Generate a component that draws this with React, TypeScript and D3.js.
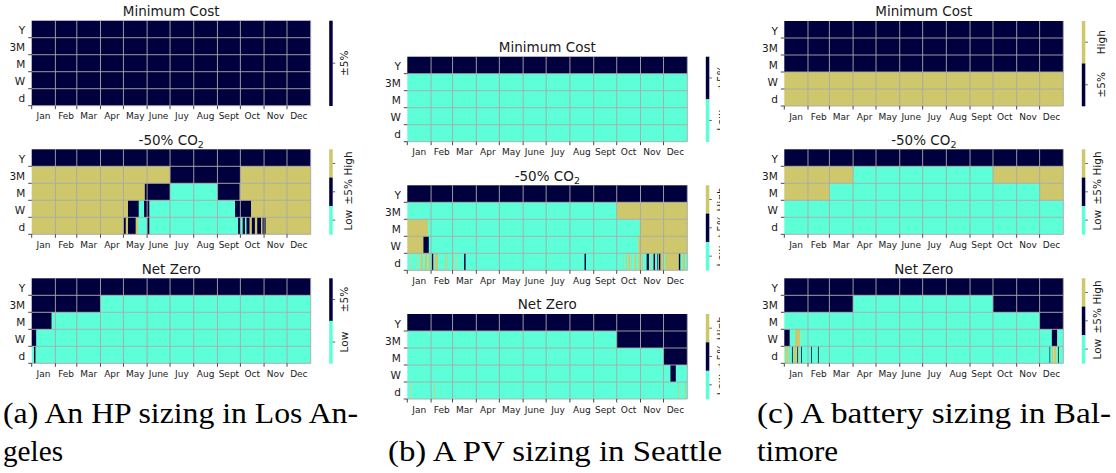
import React from "react";
import * as d3 from "d3";

// Row labels (aggregation windows) and month axis
const rowLabels = ["Y", "3M", "M", "W", "d"];
const monthNames = ["Jan", "Feb", "Mar", "Apr", "May", "June", "Juy", "Aug", "Sept", "Oct", "Nov", "Dec"];
const monthStarts = [0, 31, 59, 90, 120, 151, 181, 212, 243, 273, 304, 334, 365];
const levelNames = ["Low", "±5%", "High"];
const scenarioTitles = ["Minimum Cost", "-50% CO2", "Net Zero"];
const captions = [
  ["(a) An HP sizing in Los An-", "geles"],
  ["", "(b) A PV sizing in Seattle"],
  ["(c) A battery sizing in Bal-", "timore"],
];

// Each row is a list of runs [startDay, endDay, level]; level 0 = Low, 1 = ±5%, 2 = High
const hpMinCost = [
  [[0, 365, 1]],
  [[0, 365, 1]],
  [[0, 365, 1]],
  [[0, 365, 1]],
  [[0, 365, 1]],
];
const hpCo2 = [
  [[0, 365, 1]],
  [[0, 181, 2], [181, 273, 1], [273, 365, 2]],
  [[0, 148, 2], [148, 181, 1], [181, 243, 0], [243, 272, 1], [272, 365, 2]],
  [[0, 126, 2], [126, 140, 1], [140, 147, 0], [147, 154, 1], [154, 266, 0], [266, 287, 1], [287, 365, 2]],
  [[0, 120, 2], [120, 123, 1], [123, 126, 2], [126, 136, 1], [136, 139, 2], [139, 151, 0], [151, 154, 1],
   [154, 270, 0], [270, 273, 1], [273, 276, 0], [276, 279, 1], [279, 281, 0], [281, 285, 1], [285, 288, 2],
   [288, 292, 1], [292, 295, 2], [295, 300, 1], [300, 302, 2], [302, 306, 1], [306, 365, 2]],
];
const hpNetZero = [
  [[0, 365, 1]],
  [[0, 90, 1], [90, 365, 0]],
  [[0, 26, 1], [26, 365, 0]],
  [[0, 6, 1], [6, 365, 0]],
  [[0, 3, 0], [3, 5, 1], [5, 365, 0]],
];

const pvMinCost = [
  [[0, 365, 1]],
  [[0, 365, 0]],
  [[0, 365, 0]],
  [[0, 365, 0]],
  [[0, 365, 0]],
];
const pvCo2 = [
  [[0, 365, 1]],
  [[0, 273, 0], [273, 365, 2]],
  [[0, 27, 2], [27, 303, 0], [303, 365, 2]],
  [[0, 21, 2], [21, 28, 1], [28, 301, 0], [301, 365, 2]],
  [[0, 4, 0], [4, 5, 2], [5, 12, 0], [12, 13, 2], [13, 17, 0], [17, 20, 2], [20, 23, 0], [23, 26, 2],
   [26, 28, 0], [28, 30, 2], [30, 32, 0], [32, 34, 1], [34, 36, 0], [36, 40, 2], [40, 49, 0], [49, 50, 2],
   [50, 52, 0], [52, 53, 2], [53, 60, 0], [60, 61, 2], [61, 64, 0], [64, 65, 2], [65, 74, 0], [74, 76, 1],
   [76, 231, 0], [231, 233, 1], [233, 282, 0], [282, 283, 2], [283, 285, 0], [285, 286, 2], [286, 288, 0],
   [288, 290, 2], [290, 292, 0], [292, 293, 2], [293, 296, 0], [296, 298, 2], [298, 301, 0], [301, 303, 2],
   [303, 305, 0], [305, 307, 2], [307, 312, 0], [312, 315, 1], [315, 318, 0], [318, 319, 2], [319, 321, 0],
   [321, 323, 1], [323, 326, 0], [326, 327, 1], [327, 328, 2], [328, 330, 1], [330, 333, 2], [333, 336, 0],
   [336, 354, 2], [354, 356, 1], [356, 359, 0], [359, 362, 2], [362, 365, 0]],
];
const pvNetZero = [
  [[0, 365, 1]],
  [[0, 273, 0], [273, 365, 1]],
  [[0, 334, 0], [334, 365, 1]],
  [[0, 343, 0], [343, 350, 1], [350, 365, 0]],
  [[0, 4, 0], [4, 5, 2], [5, 35, 0], [35, 36, 2], [36, 353, 0], [353, 354, 2], [354, 362, 0], [362, 363, 2], [363, 365, 0]],
];

const batMinCost = [
  [[0, 365, 1]],
  [[0, 365, 1]],
  [[0, 365, 1]],
  [[0, 365, 2]],
  [[0, 365, 2]],
];
const batCo2 = [
  [[0, 365, 1]],
  [[0, 90, 2], [90, 273, 0], [273, 365, 2]],
  [[0, 59, 2], [59, 334, 0], [334, 365, 2]],
  [[0, 365, 0]],
  [[0, 365, 0]],
];
const batNetZero = [
  [[0, 365, 1]],
  [[0, 90, 1], [90, 273, 0], [273, 365, 1]],
  [[0, 334, 0], [334, 365, 1]],
  [[0, 7, 1], [7, 14, 0], [14, 21, 2], [21, 350, 0], [350, 357, 1], [357, 365, 0]],
  [[0, 1, 0], [1, 2, 2], [2, 3, 0], [3, 5, 2], [5, 6, 0], [6, 7, 2], [7, 10, 0], [10, 11, 1], [11, 12, 0],
   [12, 15, 2], [15, 16, 0], [16, 17, 2], [17, 18, 1], [18, 19, 2], [19, 22, 0], [22, 23, 1], [23, 35, 0],
   [35, 36, 1], [36, 44, 0], [44, 45, 1], [45, 347, 0], [347, 348, 1], [348, 350, 0], [350, 352, 2],
   [352, 353, 0], [353, 356, 2], [356, 358, 0], [358, 359, 1], [359, 365, 0]],
];

// Colour-bar levels shown for each heatmap (top to bottom)
const hpLevels = [[1], [2, 1, 0], [1, 0]];
const pvLevels = [[1, 0], [2, 1, 0], [2, 1, 0]];
const batLevels = [[2, 1], [2, 1, 0], [2, 1, 0]];

const NAVY = "#01003e";
const AQUA = "#5dffd8";
const GOLD = "#cfc76b";
const color = d3.scaleOrdinal<number, string>().domain([0, 1, 2]).range([AQUA, NAVY, GOLD]);

const SANS = "DejaVu Sans";
const SERIF = "'Liberation Serif', 'DejaVu Serif', serif";
const TEXT = "#1a1a1a";
const GRID = "#a9a9a9";
const H = 85;

const layouts = [
  { x0: 31.7, w: 279, tops: [20.7, 149.3, 278.3], lblOff: [19, 22.5, 19], clip: null as number | null },
  { x0: 407.3, w: 280, tops: [56.7, 185.3, 314], lblOff: [19.5, 19.5, 19.5], clip: 720 },
  { x0: 784.3, w: 279, tops: [21, 149.3, 278.3], lblOff: [23.5, 19.2, 19.4], clip: null },
];
const panelRows = [
  [hpMinCost, hpCo2, hpNetZero],
  [pvMinCost, pvCo2, pvNetZero],
  [batMinCost, batCo2, batNetZero],
];
const panelLevels = [hpLevels, pvLevels, batLevels];

function Title({ x, y, text }: { x: number; y: number; text: string }) {
  if (text.endsWith("CO2")) {
    return (
      <text x={x} y={y} textAnchor="middle" fontSize={13.5} fontFamily={SANS} fill={TEXT}>
        {text.slice(0, -1)}
        <tspan fontSize={9.5} dy={3}>2</tspan>
      </text>
    );
  }
  return (
    <text x={x} y={y} textAnchor="middle" fontSize={13.5} fontFamily={SANS} fill={TEXT}>
      {text}
    </text>
  );
}

function Heatmap({ x0, w, y0, title, rows, levels, lblOff }: any) {
  const x = d3.scaleLinear().domain([0, 365]).range([x0, x0 + w]);
  const y = d3.scaleBand<string>().domain(rowLabels).range([y0, y0 + H]);
  const bw = y.bandwidth();
  const cb = d3.scaleBand<string>().domain(levels.map(String)).range([y0, y0 + H]);
  const cbX = x0 + w + 18.5;
  const cbW = 3.5;

  return (
    <g>
      <Title x={x0 + w / 2} y={y0 - 4.7} text={title} />
      {rows.map((runs: number[][], i: number) =>
        runs.map(([s, e, v], j) => (
          <rect
            key={`${i}-${j}`}
            x={x(s)}
            y={y(rowLabels[i])!}
            width={x(e) - x(s) + (e < 365 ? 0.35 : 0)}
            height={bw + (i < rowLabels.length - 1 ? 0.35 : 0)}
            fill={color(v)}
          />
        ))
      )}
      {/* grid lines at month and row boundaries */}
      {monthStarts.slice(1).map((m) => (
        <line key={`gv${m}`} x1={x(m)} x2={x(m)} y1={y0} y2={y0 + H} stroke={GRID} strokeWidth={0.9} />
      ))}
      {rowLabels.map((r) => (
        <line key={`gh${r}`} x1={x0} x2={x0 + w} y1={y(r)! + bw} y2={y(r)! + bw} stroke={GRID} strokeWidth={0.9} />
      ))}
      {/* x ticks and month labels */}
      {monthStarts.slice(0, 12).map((m, i) => (
        <g key={`xt${i}`}>
          <line x1={x(m)} x2={x(m)} y1={y0 + H} y2={y0 + H + 3.5} stroke="#333" strokeWidth={0.9} />
          <text
            x={x((m + monthStarts[i + 1]) / 2)}
            y={y0 + H + 13.5}
            textAnchor="middle"
            fontSize={9}
            fontFamily={SANS}
            fill={TEXT}
          >
            {monthNames[i]}
          </text>
        </g>
      ))}
      {/* y ticks and row labels */}
      {rowLabels.map((r) => (
        <g key={`yt${r}`}>
          <line x1={x0 - 3.5} x2={x0} y1={y(r)! + bw} y2={y(r)! + bw} stroke="#333" strokeWidth={0.9} />
          <text x={x0 - 6.5} y={y(r)! + bw / 2 + 5.2} textAnchor="end" fontSize={10.5} fontFamily={SANS} fill={TEXT}>
            {r}
          </text>
        </g>
      ))}
      {/* colour bar */}
      {levels.map((lv: number) => {
        const top = cb(String(lv))!;
        const mid = top + cb.bandwidth() / 2;
        return (
          <g key={`cb${lv}`}>
            <rect x={cbX} y={top} width={cbW} height={cb.bandwidth() + 0.3} fill={color(lv)} />
            <line x1={cbX + cbW} x2={cbX + cbW + 2.5} y1={mid} y2={mid} stroke="#333" strokeWidth={0.8} />
            <text
              transform={`translate(${cbX + lblOff},${mid}) rotate(-90)`}
              textAnchor="middle"
              fontSize={10.5}
              fontFamily={SANS}
              fill={TEXT}
            >
              {levelNames[lv]}
            </text>
          </g>
        );
      })}
    </g>
  );
}

export default function App() {
  const captionX = [3, 388, 757];
  const captionW = [[355, 60], [0, 334], [354, 81]];
  const captionY = [423, 461];
  return (
    <svg
      width={1116}
      height={473}
      viewBox="0 0 1116 473"
      style={{ position: "absolute", left: 0, top: 0, display: "block", background: "#fff" }}
    >
      <defs>
        <clipPath id="clipB">
          <rect x={380} y={0} width={340} height={420} />
        </clipPath>
      </defs>
      {layouts.map((L, p) => (
        <g key={`p${p}`} clipPath={L.clip ? "url(#clipB)" : undefined}>
          {scenarioTitles.map((t, s) => (
            <Heatmap
              key={`h${p}-${s}`}
              x0={L.x0}
              w={L.w}
              y0={L.tops[s]}
              title={t}
              rows={panelRows[p][s]}
              levels={panelLevels[p][s]}
              lblOff={L.lblOff[s]}
            />
          ))}
        </g>
      ))}
      {captions.map((lines, p) =>
        lines.map((line, k) =>
          line ? (
            <text
              key={`c${p}-${k}`}
              x={captionX[p]}
              y={captionY[k]}
              fontSize={30}
              fontFamily={SERIF}
              fill="#000"
              textLength={captionW[p][k]}
              lengthAdjust="spacingAndGlyphs"
            >
              {line}
            </text>
          ) : null
        )
      )}
    </svg>
  );
}
